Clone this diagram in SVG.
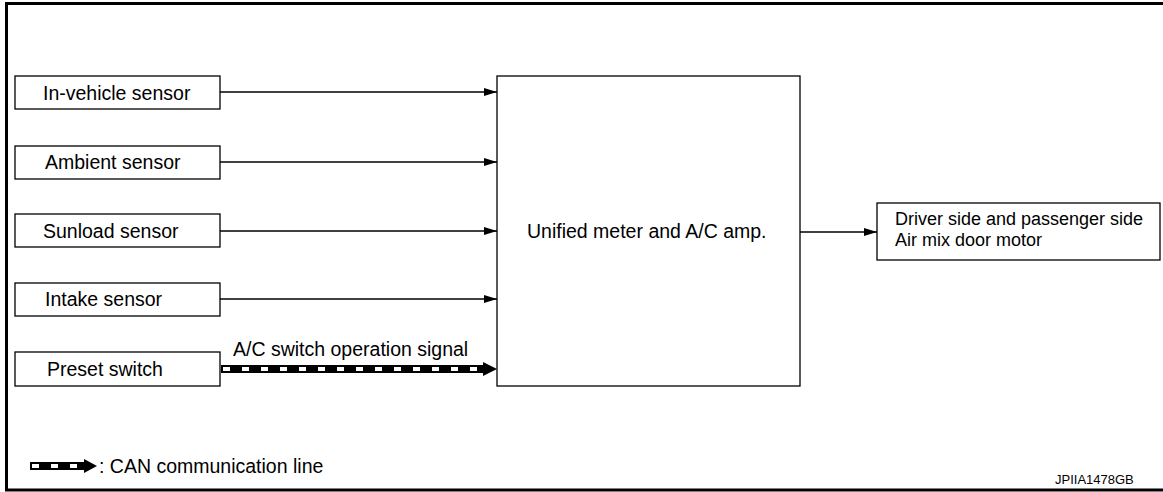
<svg xmlns="http://www.w3.org/2000/svg" width="1163" height="492" viewBox="0 0 1163 492">
<defs>
<style>
.box{fill:#fff;stroke:#000;stroke-width:1.3}
.t{font-family:"Liberation Sans",Arial,sans-serif;font-size:19.5px;fill:#000}
.s{font-family:"Liberation Sans",Arial,sans-serif;font-size:18px;fill:#000}
.ln{stroke:#000;stroke-width:1.3;fill:none}
.can{stroke:#000;stroke-width:8;fill:none}
.canw{stroke:#fff;stroke-width:4;stroke-dasharray:7 12;fill:none}
</style>
<marker id="ah" markerWidth="13" markerHeight="8" refX="13" refY="4" orient="auto" markerUnits="userSpaceOnUse">
<path d="M0,0 L13,4 L0,8 Z" fill="#000"/>
</marker>
</defs>
<rect width="1163" height="492" fill="#fff"/>
<path d="M1163,3.5 H6.5 V490 H1163" fill="none" stroke="#000" stroke-width="3"/>
<g id="in-vehicle"><rect class="box" x="15" y="76" width="205" height="33"/><text class="t" x="43" y="100">In-vehicle sensor</text></g>
<g id="ambient"><rect class="box" x="15" y="146" width="205" height="33"/><text class="t" x="45" y="169">Ambient sensor</text></g>
<g id="sunload"><rect class="box" x="15" y="214" width="205" height="33"/><text class="t" x="43" y="238">Sunload sensor</text></g>
<g id="intake"><rect class="box" x="15" y="283" width="205" height="33"/><text class="t" x="45" y="306">Intake sensor</text></g>
<g id="preset"><rect class="box" x="15" y="352" width="205" height="34"/><text class="t" x="47" y="376">Preset switch</text></g>
<g id="amp"><rect class="box" x="497" y="76" width="303" height="310"/><text class="t" x="527" y="238">Unified meter and A/C amp.</text></g>
<g id="motor"><rect class="box" x="877" y="203" width="283" height="57"/><text class="s" x="895" y="225">Driver side and passenger side</text><text class="s" x="895" y="246">Air mix door motor</text></g>
<g id="connectors">
<line class="ln" x1="220" y1="92" x2="497" y2="92" marker-end="url(#ah)"/>
<line class="ln" x1="220" y1="162" x2="497" y2="162" marker-end="url(#ah)"/>
<line class="ln" x1="220" y1="231" x2="497" y2="231" marker-end="url(#ah)"/>
<line class="ln" x1="220" y1="299" x2="497" y2="299" marker-end="url(#ah)"/>
<line class="ln" x1="800" y1="232" x2="877" y2="232" marker-end="url(#ah)"/>
<line class="can" x1="221" y1="369" x2="484" y2="369"/>
<line class="canw" x1="223" y1="369" x2="480" y2="369"/>
<polygon points="483,362 497,369 483,376" fill="#000"/>
<text class="t" x="233" y="356">A/C switch operation signal</text>
</g>
<g id="legend">
<line class="can" x1="30" y1="466" x2="85" y2="466"/>
<line class="canw" x1="32" y1="466" x2="82" y2="466"/>
<polygon points="84,459 97,466 84,473" fill="#000"/>
<text class="t" x="99" y="473">: CAN communication line</text>
</g>
<text x="1055" y="484" style="font-family:'Liberation Sans',Arial,sans-serif;font-size:13px">JPIIA1478GB</text>
</svg>
